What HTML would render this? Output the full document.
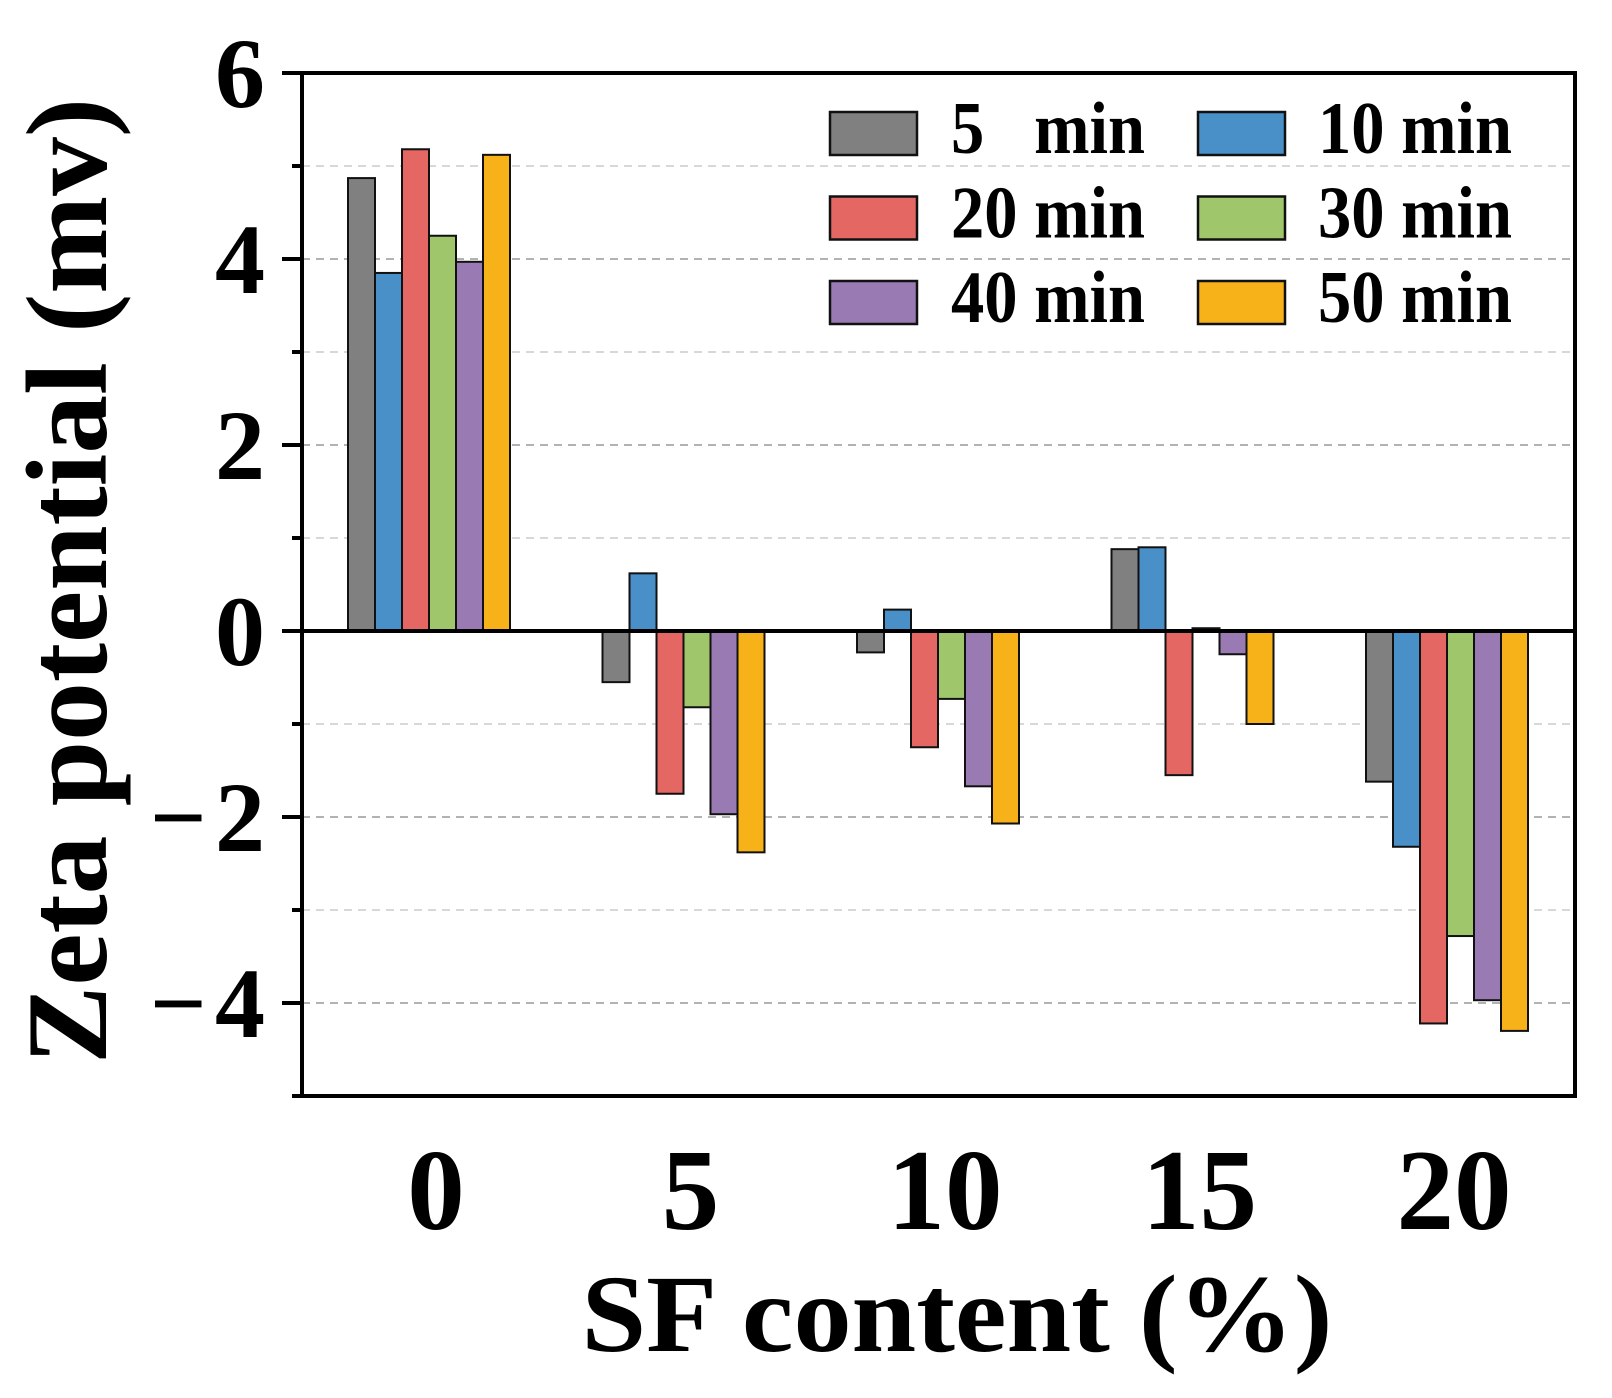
<!DOCTYPE html>
<html><head><meta charset="utf-8"><style>
html,body{margin:0;padding:0;background:#fff}
svg{display:block}
text{font-family:"Liberation Serif",serif;font-weight:bold;fill:#000}
</style></head><body>
<svg id="chart" width="1612" height="1398" viewBox="0 0 1612 1398" xmlns="http://www.w3.org/2000/svg">
<g id="grid"></g>
<g id="bars"></g>
<g id="axes"></g>
<g id="legend"></g>
<text x="957" y="1351" font-size="110" text-anchor="middle" textLength="751" lengthAdjust="spacingAndGlyphs">SF content (%)</text>
<text transform="translate(106,581) rotate(-90)" x="0" y="0" font-size="115" text-anchor="middle" textLength="966" lengthAdjust="spacingAndGlyphs">Zeta potential (mv)</text>
</svg>
<script>
const categories = ["0", "5", "10", "15", "20"];
const seriesNames = ["5\u00a0\u00a0\u00a0min", "10 min", "20 min", "30 min", "40 min", "50 min"];
const s5 = [4.87, -0.55, -0.23, 0.88, -1.62];
const s10 = [3.85, 0.62, 0.23, 0.90, -2.32];
const s20 = [5.18, -1.75, -1.25, -1.55, -4.22];
const s30 = [4.25, -0.82, -0.73, 0.03, -3.28];
const s40 = [3.97, -1.97, -1.67, -0.25, -3.97];
const s50 = [5.12, -2.38, -2.07, -1.00, -4.30];
const yTicks = [6, 4, 2, 0, -2, -4];
const yLabels = ["6", "4", "2", "0", "\u2212\u200a2", "\u2212\u200a4"];

const series = [s5, s10, s20, s30, s40, s50];
const colors = ["#808080", "#4a90c8", "#e46764", "#9fc66a", "#9a7ab2", "#f7b119"];
const NS = "http://www.w3.org/2000/svg";
const L = 302, R = 1575, T = 73, B = 1096, yMin = -5, yMax = 6;
const y = v => T + (yMax - v) / (yMax - yMin) * (B - T);
const gx0 = 429, gStep = 254.5, bw = 27;
const xc = i => gx0 + i * gStep;
function mk(tag, attrs, parent) {
  const e = document.createElementNS(NS, tag);
  for (const k in attrs) e.setAttribute(k, attrs[k]);
  parent.appendChild(e);
  return e;
}
const grid = document.getElementById('grid');
for (let v = yMin + 1; v < yMax; v++) {
  if (v === 0) continue;
  const ln = mk('line', {x1: L, x2: R, y1: y(v), y2: y(v), stroke: v % 2 === 0 ? '#999' : '#ccc', 'stroke-width': 1.5, 'stroke-dasharray': '8 6'}, grid);
  
  
}
const barsG = document.getElementById('bars');
series.forEach((s, si) => {
  s.forEach((v, ci) => {
    const x = xc(ci) - 3 * bw + si * bw;
    const y0 = y(0), y1 = y(v);
    const r = mk('rect', {x: x, y: Math.min(y0, y1), width: bw, height: Math.abs(y1 - y0), fill: colors[si], stroke: '#111', 'stroke-width': 2}, barsG);
    
    
  });
});
const axes = document.getElementById('axes');
mk('rect', {x: L, y: T, width: R - L, height: B - T, fill: 'none', stroke: '#000', 'stroke-width': 4}, axes);
const zl = mk('line', {x1: L, x2: R, y1: y(0), y2: y(0), stroke: '#000', 'stroke-width': 4}, axes);


for (let v = yMin; v <= yMax; v++) {
  const major = v % 2 === 0;
  mk('line', {x1: L - (major ? 20 : 10), x2: L, y1: y(v), y2: y(v), stroke: '#000', 'stroke-width': 4}, axes);
}
yTicks.forEach((v, i) => {
  const t = mk('text', {x: 265, y: y(v) + 34, 'font-size': 100, 'text-anchor': 'end'}, axes);
  t.textContent = yLabels[i];
  
  
});
categories.forEach((c, i) => {
  const t = mk('text', {x: xc(i) + 7, y: 1229, 'font-size': 115, 'text-anchor': 'middle'}, axes);
  t.textContent = c;
  
  
});
const legend = document.getElementById('legend');
seriesNames.forEach((n, i) => {
  const col = i % 2, row = Math.floor(i / 2);
  const sx = col ? 1198 : 830, sy = 112 + row * 84.5;
  const r = mk('rect', {x: sx, y: sy, width: 87, height: 43, fill: colors[i], stroke: '#111', 'stroke-width': 2.5}, legend);
  
  
  const t = mk('text', {x: col ? 1318 : 951, y: sy + 41, 'font-size': 74, textLength: 194, lengthAdjust: 'spacingAndGlyphs'}, legend);
  t.textContent = n;
  
  
});
</script>
</body></html>
